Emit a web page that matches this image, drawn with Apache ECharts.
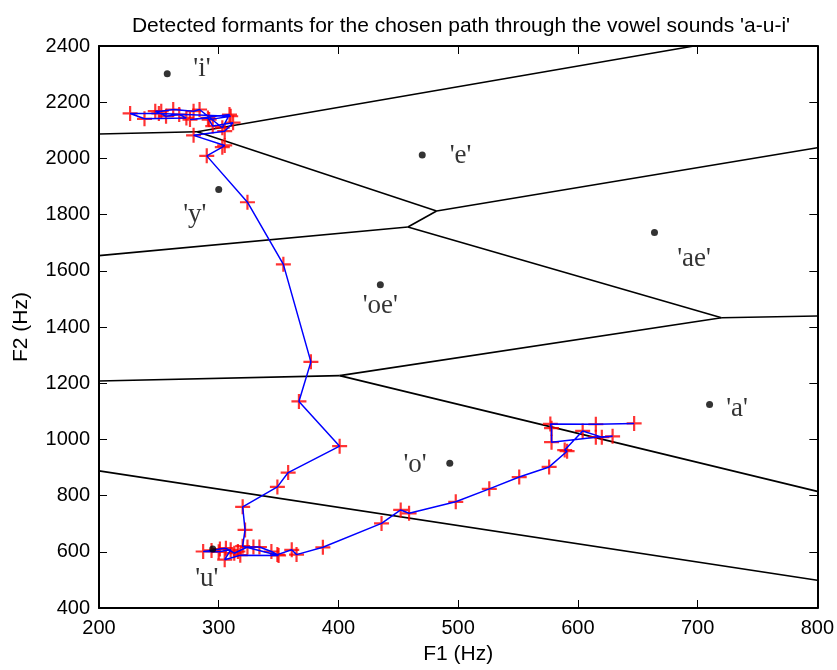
<!DOCTYPE html>
<html>
<head>
<meta charset="utf-8">
<script src="https://cdn.jsdelivr.net/npm/echarts@6/dist/echarts.min.js"></script>
<style>
  html, body { margin: 0; padding: 0; background: #fff; }
  #chart { width: 837px; height: 670px; }
</style>
</head>
<body>
<div id="chart"></div>
<script>
// Formant track (F1, F2 in Hz) along the chosen path 'a' -> 'u' -> 'i'
const pathF1 = [647, 615, 577, 578, 578, 615, 629, 620, 604, 589, 591, 576,
  551, 526, 498, 459, 452, 436, 387, 365, 361, 349, 344,
  334, 329, 324, 316, 313, 306, 301, 294, 287, 300, 310, 305, 318, 350, 320,
  322, 320, 349, 358, 401, 367, 377, 354, 324, 290,
  303, 305, 279, 305, 312, 295, 291, 276, 309, 303, 284, 279, 262, 252, 247,
  256, 267, 273, 238, 226, 250, 310, 292];
const pathF2 = [1057, 1054, 1055, 1040, 990, 1008, 1011, 1008, 1030, 962, 958, 902,
  866, 824, 778, 737, 749, 701, 616, 590, 607, 590, 601,
  617, 617, 617, 601, 595, 613, 610, 605, 601, 600, 607, 572, 588, 587, 620,
  678, 760, 831, 882, 976, 1135, 1276, 1623, 1844, 2009,
  2040, 2046, 2082, 2097, 2127, 2115, 2144, 2138, 2156, 2109, 2174, 2168, 2174, 2168, 2168,
  2150, 2156, 2144, 2141, 2160, 2160, 2150, 2138];

// Vowel reference centres
const vowelNames = ["'i'", "'e'", "'y'", "'ae'", "'oe'", "'a'", "'o'", "'u'"];
const vowelF1 = [257, 470, 300, 664, 435, 710, 493, 295];
const vowelF2 = [2301, 2012, 1889, 1736, 1550, 1124, 915, 610];

// Where each vowel name is written
const vowelLabelF1 = [286, 502, 280, 697, 435, 733, 464, 290];
const vowelLabelF2 = [2319, 2008, 1799, 1644, 1474, 1110, 909, 503];

// Region boundaries between the vowel classes, as [F1, F2] segment ends
const boundarySegments = [
  [[200, 2087], [282, 2095]],
  [[282, 2095], [697, 2400]],
  [[282, 2095], [482, 1813]],
  [[482, 1813], [800, 2038]],
  [[482, 1813], [458, 1756]],
  [[458, 1756], [200, 1654]],
  [[458, 1756], [720, 1433]],
  [[720, 1433], [800, 1439]],
  [[720, 1433], [401, 1227]],
  [[401, 1227], [200, 1208]],
  [[401, 1227], [800, 815]],
  [[200, 888], [800, 499]]
];

const xTicks = { min: 200, max: 800, interval: 100 };
const yTicks = { min: 400, max: 2400, interval: 200 };

const sansFont = "'Liberation Sans', Arial, sans-serif";
const serifFont = "'Liberation Serif', 'Times New Roman', serif";

const pathPoints = pathF1.map((f1, i) => [f1, pathF2[i]]);
const vowelPoints = vowelF1.map((f1, i) => ({ name: vowelNames[i], value: [f1, vowelF2[i]] }));
const vowelLabels = vowelLabelF1.map((f1, i) => ({ name: vowelNames[i], value: [f1, vowelLabelF2[i]] }));

const plusSymbol = 'path://M-1.1,-7.5H1.1V-1.1H7.5V1.1H1.1V7.5H-1.1V1.1H-7.5V-1.1H-1.1Z';

const frameLine = { show: true, onZero: false, lineStyle: { color: '#000', width: 2 } };
const innerTick = { show: true, inside: true, length: 8, lineStyle: { color: '#000', width: 1 } };
const tickLabel = { color: '#000', fontSize: 20, fontFamily: sansFont, formatter: v => String(v) };

const chart = echarts.init(document.getElementById('chart'), null, { renderer: 'canvas' });
chart.setOption({
  animation: false,
  backgroundColor: '#fff',
  title: {
    text: "Detected formants for the chosen path through the vowel sounds 'a-u-i'",
    left: 456,
    top: 11,
    textAlign: 'center',
    textStyle: { color: '#000', fontSize: 21, fontWeight: 'normal', fontFamily: sansFont }
  },
  grid: { left: 99, right: 18, top: 46, bottom: 58 },
  xAxis: [
    {
      type: 'value', position: 'bottom', ...xTicks,
      axisLine: frameLine, axisTick: innerTick,
      axisLabel: { ...tickLabel, margin: 10 },
      splitLine: { show: false },
      name: 'F1 (Hz)', nameLocation: 'middle', nameGap: 36,
      nameTextStyle: { color: '#000', fontSize: 21, fontFamily: sansFont }
    },
    {
      type: 'value', position: 'top', ...xTicks,
      axisLine: frameLine, axisTick: innerTick,
      axisLabel: { show: false }, splitLine: { show: false }
    }
  ],
  yAxis: [
    {
      type: 'value', position: 'left', ...yTicks,
      axisLine: frameLine, axisTick: innerTick,
      axisLabel: { ...tickLabel, margin: 9 },
      splitLine: { show: false },
      name: 'F2 (Hz)', nameLocation: 'middle', nameGap: 67,
      nameTextStyle: { color: '#000', fontSize: 21, fontFamily: sansFont }
    },
    {
      type: 'value', position: 'right', ...yTicks,
      axisLine: frameLine, axisTick: innerTick,
      axisLabel: { show: false }, splitLine: { show: false }
    }
  ],
  series: [
    {
      name: 'boundaries',
      type: 'lines',
      coordinateSystem: 'cartesian2d',
      xAxisIndex: 0, yAxisIndex: 0,
      silent: true,
      z: 1,
      lineStyle: { color: '#000', width: 1.6, opacity: 1 },
      data: boundarySegments.map(seg => ({ coords: seg }))
    },
    {
      name: 'formant markers',
      type: 'scatter',
      xAxisIndex: 0, yAxisIndex: 0,
      symbol: plusSymbol,
      symbolSize: 15,
      itemStyle: { color: '#ff0000' },
      z: 2,
      data: pathPoints
    },
    {
      name: 'formant track',
      type: 'line',
      xAxisIndex: 0, yAxisIndex: 0,
      showSymbol: false,
      lineStyle: { color: '#0000ff', width: 1.5 },
      z: 3,
      data: pathPoints
    },
    {
      name: 'vowel centres',
      type: 'scatter',
      xAxisIndex: 0, yAxisIndex: 0,
      symbol: 'circle',
      symbolSize: 7,
      itemStyle: { color: '#000' },
      z: 4,
      data: vowelPoints
    },
    {
      name: 'vowel names',
      type: 'scatter',
      xAxisIndex: 0, yAxisIndex: 0,
      symbolSize: 1,
      itemStyle: { color: 'rgba(0,0,0,0)' },
      silent: true,
      z: 5,
      label: {
        show: true, position: 'inside', formatter: '{b}',
        color: '#000', fontSize: 27, fontFamily: serifFont
      },
      data: vowelLabels
    }
  ]
});
</script>
</body>
</html>
